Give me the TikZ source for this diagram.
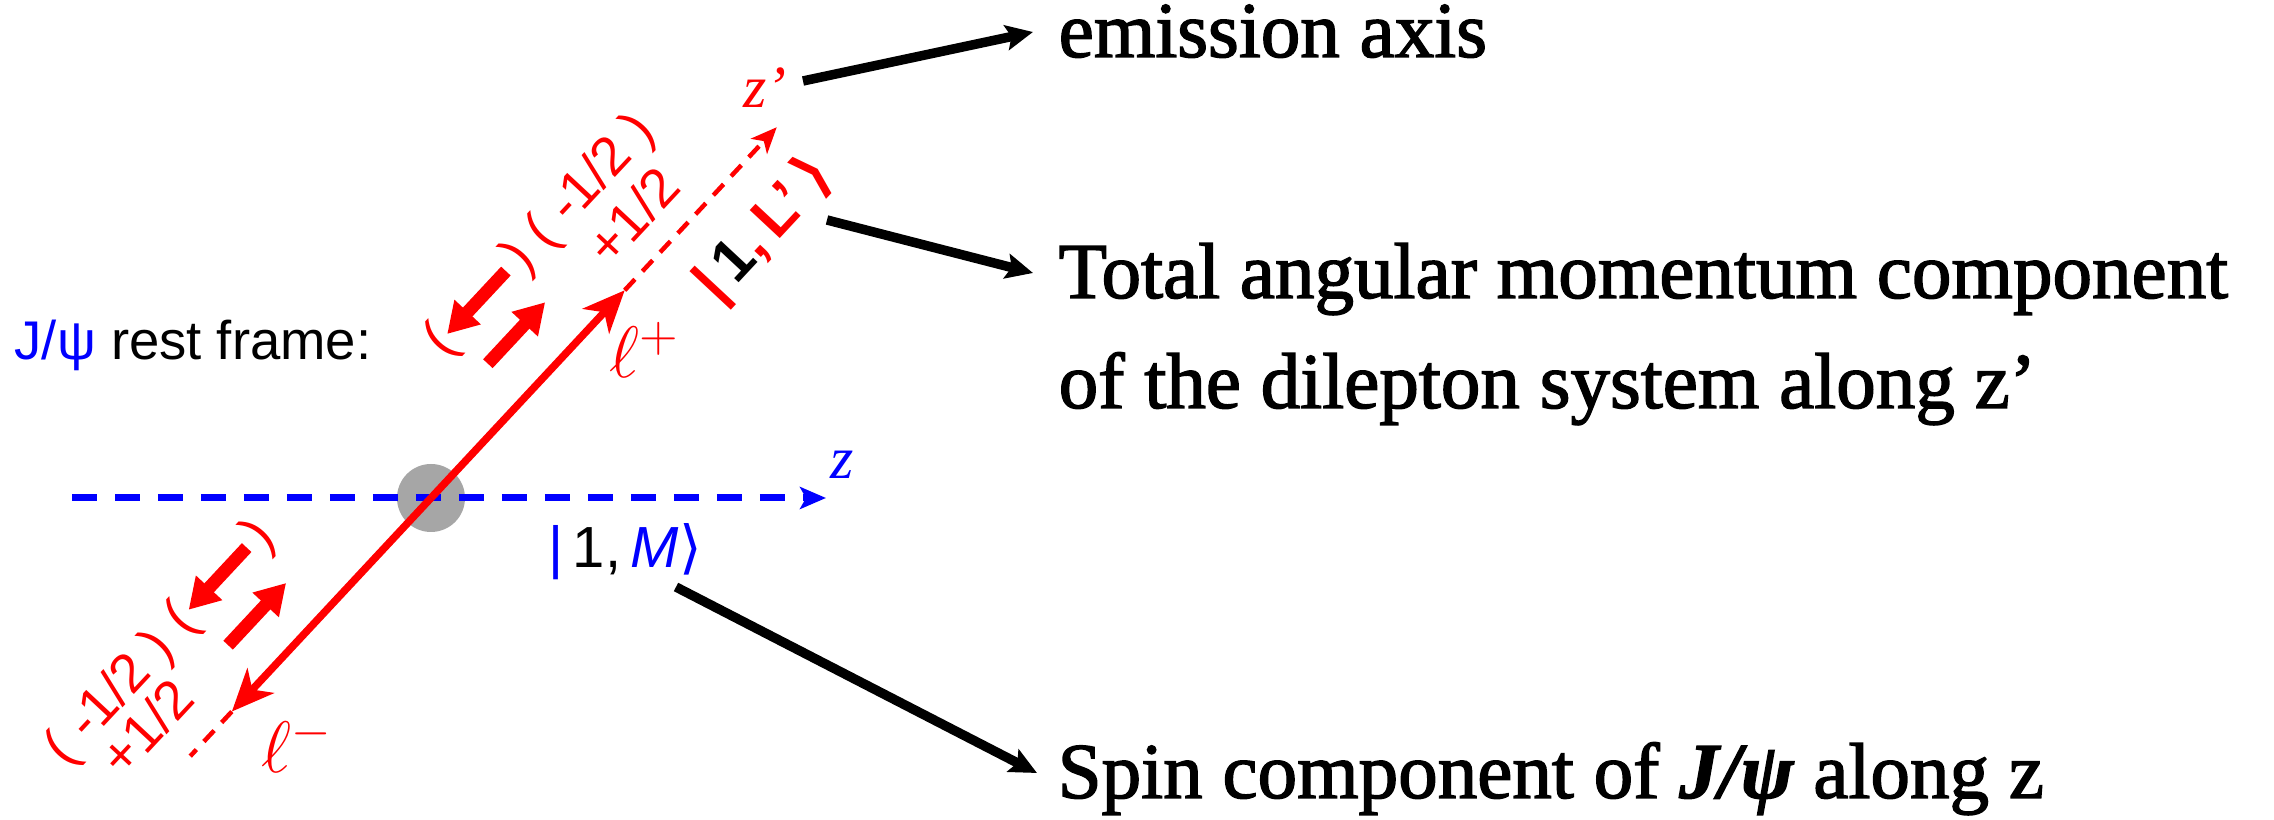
\documentclass[tikz,border=0pt]{standalone}
\usepackage{fontspec}
\setmainfont{Liberation Serif}
\newfontfamily\lsans{Liberation Sans}
\newfontfamily\dvsans{DejaVu Sans}
\newfontfamily\descfont[FakeBold=1.8]{Liberation Serif}
\usetikzlibrary{arrows.meta}
\definecolor{redc}{RGB}{255,0,0}
\definecolor{bluec}{RGB}{0,0,255}
\definecolor{ballgray}{RGB}{166,166,166}
\begin{document}
\begin{tikzpicture}[x=0.1mm,y=0.1mm,
  blk/.style={line width=0.95mm,-{Stealth[length=2.7mm,width=2.5mm,inset=0.5mm]}},
  spinarrow/.style={redc,line width=1.3mm,-{Triangle[length=3mm,width=3.4mm]}},
  rtxt/.style={text=redc,font=\lsans\fontsize{15.5}{18}\selectfont,inner sep=0pt,rotate=47},
  desc/.style={font=\descfont\fontsize{22.5}{27}\selectfont,anchor=base west,inner sep=0pt},
  lep/.style={text=redc,font=\fontsize{21}{25}\selectfont,inner sep=0pt}]
\useasboundingbox (0,0) rectangle (2274,-820);
\fill[white] (0,0) rectangle (2274,-820);

% J/psi ball
\node[circle,fill=ballgray,minimum size=6.8mm,inner sep=0pt] (ball) at (431,-498) {};

% z axis
\coordinate (zstart) at (72,-498);
\coordinate (zend) at (826,-498);
\draw[bluec,line width=0.7mm,dash pattern=on 2.5mm off 1.8mm,
  -{Stealth[length=2.6mm,width=2.2mm,inset=0.6mm]}] (zstart) -- (zend);
\node[text=bluec,font=\fontsize{17}{20}\selectfont\itshape,inner sep=0pt] (zlab) at (842,-465) {z};

\node[anchor=base west,inner sep=0pt,font=\lsans\fontsize{15.5}{18}\selectfont] (rest) at (14,-360)
  {\textcolor{bluec}{J/ψ} rest frame:};

\begin{scope}[shift={(431,-498)},rotate=47]
  \coordinate (c0) at (0,0);
  \coordinate (lp) at (284,0);
  \coordinate (lm) at (-292,0);
  \coordinate (zp) at (507,0);
  \coordinate (lmd) at (-353,0);
  \draw[redc,line width=0.75mm,-{Stealth[length=4.2mm,width=3.6mm,inset=1.2mm]}] (c0) -- (lp);
  \draw[redc,line width=0.75mm,-{Stealth[length=4.2mm,width=3.6mm,inset=1.2mm]}] (c0) -- (lm);
  \draw[redc,line width=0.45mm,dash pattern=on 1.5mm off 1.1mm,
    -{Stealth[length=2.6mm,width=2.2mm,inset=0.7mm]}] (lp) -- (zp);
  \draw[redc,line width=0.45mm,dash pattern=on 1.5mm off 1.1mm] (lm) -- (lmd);

  % upper spin arrows
  \coordinate (ua1) at (217,100); \coordinate (ua2) at (131,100);
  \coordinate (ub1) at (137,50);  \coordinate (ub2) at (221,50);
  \draw[spinarrow] (ua1) -- (ua2);
  \draw[spinarrow] (ub1) -- (ub2);
  \node[rtxt] (upl) at (121,98) {(};
  \node[rtxt] (upr) at (236,98) {)};
  \node[rtxt] (ut1) at (341,98) {( -1/2 )};
  \node[rtxt] (ut2) at (344,45) {+1/2};

  % lower spin arrows
  \coordinate (la1) at (-162,101); \coordinate (la2) at (-247,101);
  \coordinate (lb1) at (-246,48);  \coordinate (lb2) at (-161,48);
  \draw[spinarrow] (la1) -- (la2);
  \draw[spinarrow] (lb1) -- (lb2);
  \node[rtxt] (lpl) at (-259,98) {(};
  \node[rtxt] (lpr) at (-144,99) {)};
  \node[rtxt] (lt1) at (-365,97) {( -1/2 )};
  \node[rtxt] (lt2) at (-362,52) {+1/2};

  % |1,L'>
  \node[rtxt,font=\lsans\bfseries\fontsize{17}{20}\selectfont] (ket1) at (424,-62)
    {|\,\textcolor{black}{1},\,L’\,{\dvsans\bfseries ⟩}};
\end{scope}

\node[lep] (lplus) at (645,-350) {$\ell^{+}$};
\node[lep] (lminus) at (297,-745) {$\ell^{-}$};
\node[text=redc,font=\fontsize{17}{20}\selectfont\itshape,inner sep=0pt] (zprime) at (765,-88) {z’};

\node[inner sep=0pt,font=\lsans\fontsize{16.5}{19}\selectfont] (ketM) at (625,-552)
  {\textcolor{bluec}{|}\,1,\,\textcolor{bluec}{\itshape M}\textcolor{bluec}{\dvsans ⟩}};

% descriptions
\node[desc] (t1) at (1058,-57) {emission axis};
\node[desc] (t2) at (1058,-298) {Total angular momentum component};
\node[desc] (t3) at (1058,-408) {of the dilepton system along z’};
\node[desc] (t4) at (1057,-798) {Spin component of {\bfseries\itshape J/ψ} along z};

% pointer arrows
\coordinate (p1s) at (803,-81);  \coordinate (p1e) at (1033,-32);
\coordinate (p2s) at (827,-220); \coordinate (p2e) at (1033,-273);
\coordinate (p3s) at (676,-587); \coordinate (p3e) at (1037,-773);
\draw[blk] (p1s) -- (p1e);
\draw[blk] (p2s) -- (p2e);
\draw[blk] (p3s) -- (p3e);
\end{tikzpicture}
\end{document}
